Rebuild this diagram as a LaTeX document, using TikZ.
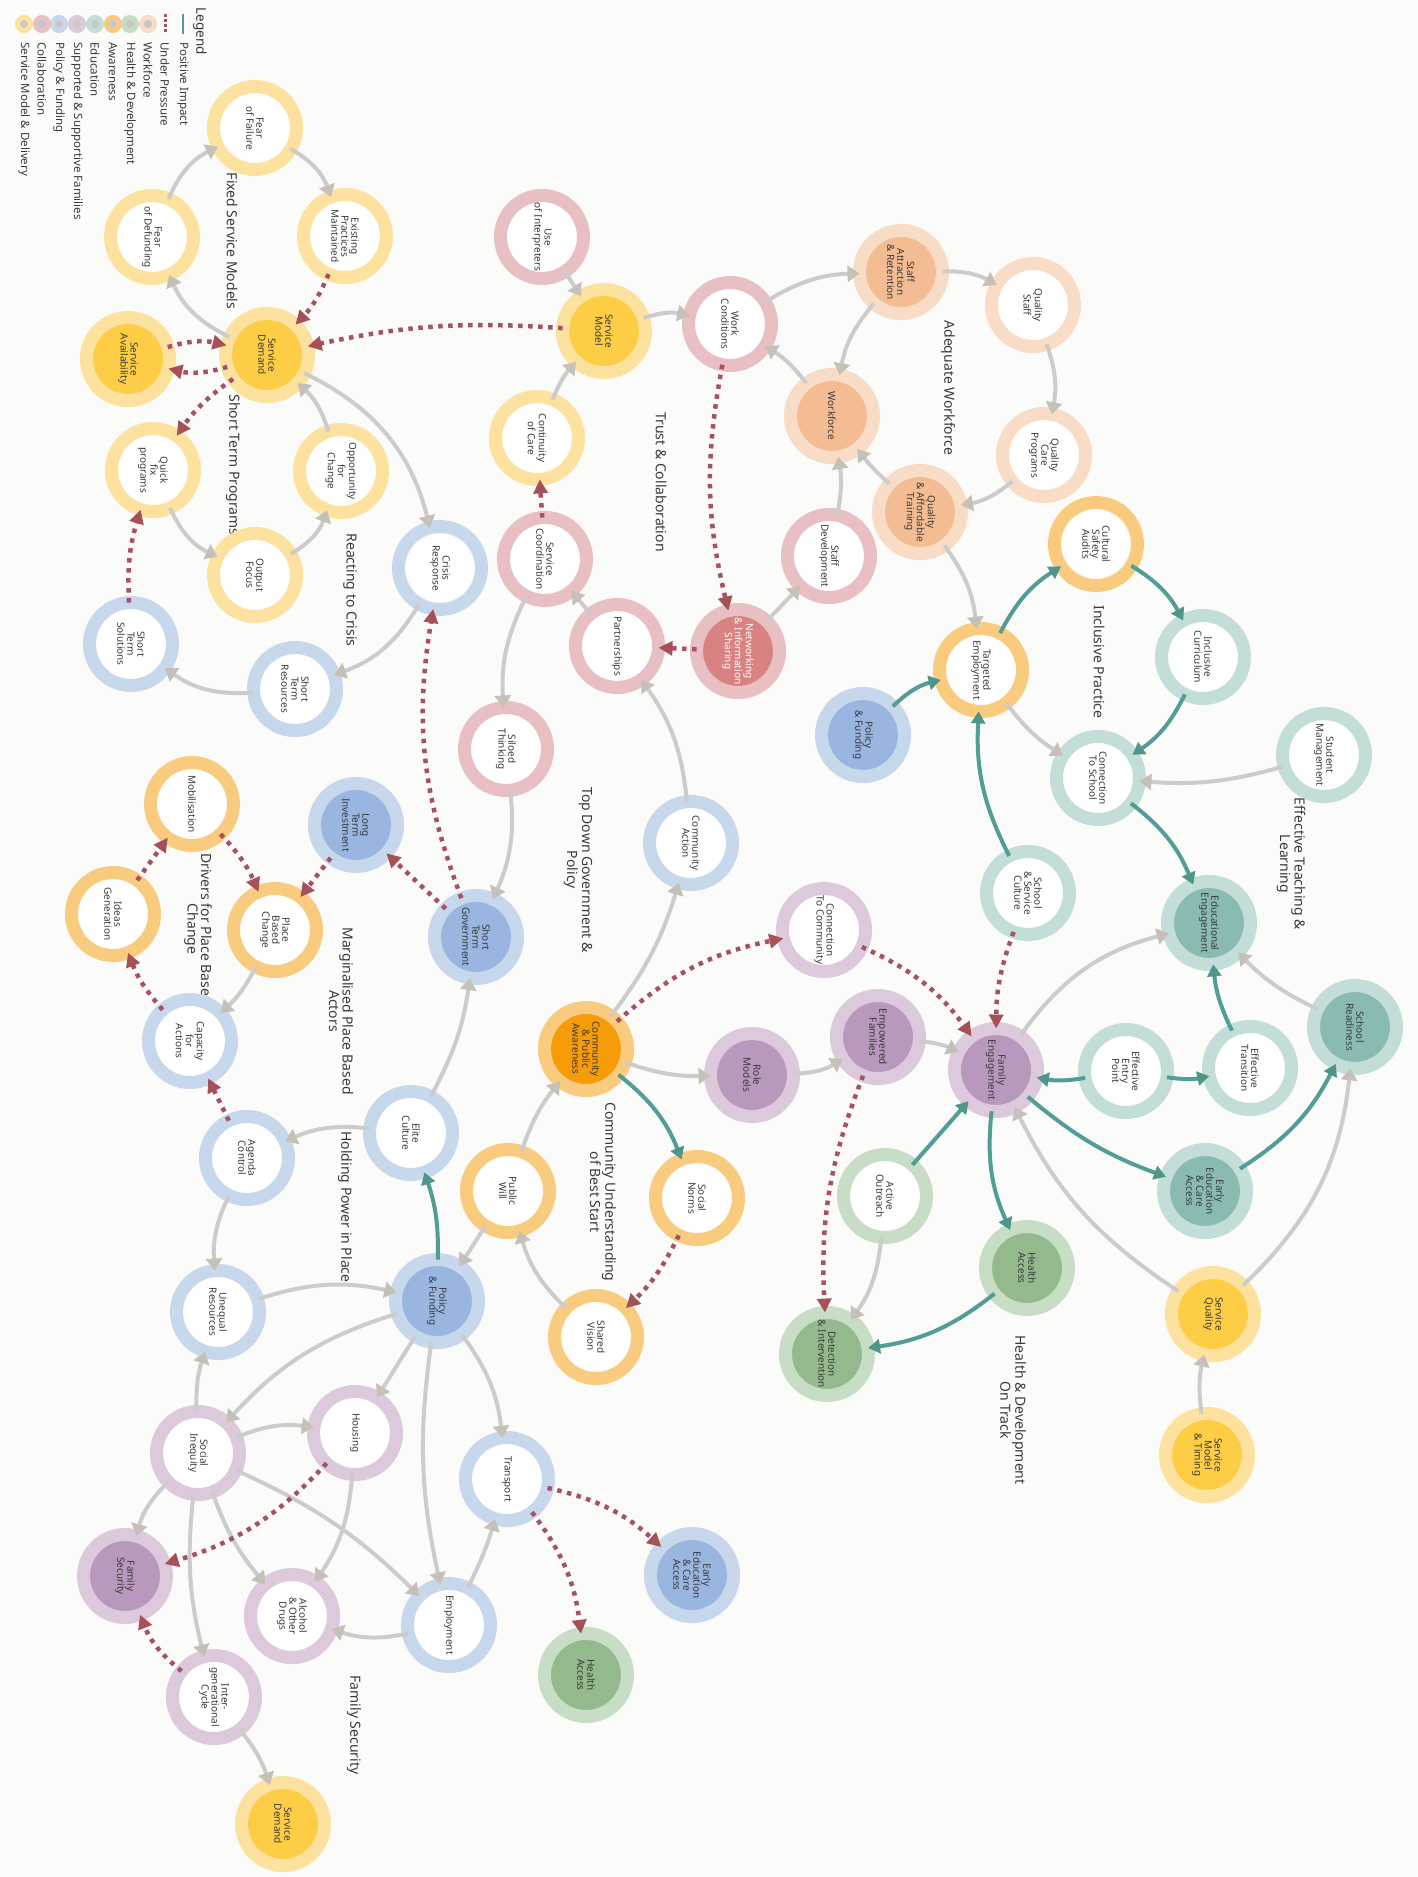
\documentclass[tikz,border=0pt]{standalone}
\usepackage{fontspec}
\setmainfont{Noto Sans}
\usepackage{xcolor}
\usepackage{tikz}
\usetikzlibrary{arrows.meta, positioning}
\definecolor{paper}{HTML}{FBFBF9}
\definecolor{ink}{HTML}{3A3A3A}
\definecolor{smring}{HTML}{FCE29E}
\definecolor{smcore}{HTML}{FDCD45}
\definecolor{coring}{HTML}{E8BFC2}
\definecolor{cocore}{HTML}{D98282}
\definecolor{pfring}{HTML}{C8D8EC}
\definecolor{pfcore}{HTML}{98B6E0}
\definecolor{faring}{HTML}{DCC9DC}
\definecolor{facore}{HTML}{B898BC}
\definecolor{edring}{HTML}{C3DDD8}
\definecolor{edcore}{HTML}{89BBB3}
\definecolor{awring}{HTML}{F9CB7F}
\definecolor{awcore}{HTML}{F59C08}
\definecolor{hering}{HTML}{C7DDC5}
\definecolor{hecore}{HTML}{93B98C}
\definecolor{woring}{HTML}{F8DCC6}
\definecolor{wocore}{HTML}{F4BC92}
\definecolor{keydot}{HTML}{C8C8C8}
\definecolor{linkgray}{HTML}{CCCCCC}
\definecolor{linkhead}{HTML}{C6C1B8}
\definecolor{boostteal}{HTML}{529D95}
\definecolor{boosthead}{HTML}{4F958A}
\definecolor{strainred}{HTML}{A6506A}
\definecolor{strainhead}{HTML}{A65058}

\begin{document}
\begin{tikzpicture}[
    x=1pt, y=-1pt,
    factor/.style={
        circle,
        minimum size=83pt,
        inner sep=0pt,
        outer sep=0pt,
        line width=13pt,
        rotate=-90,
        align=center,
        text=ink,
        font=\fontsize{10}{10}\selectfont
    },
    hollow/.style={factor, draw=#1ring, fill=white},
    cored/.style={factor, draw=#1ring, fill=#1core},
    theme/.style={rotate=-90, align=center, text=ink, font=\fontsize{14}{13.5}\selectfont},
    keytext/.style={rotate=-90, anchor=west, text=ink, font=\fontsize{11.5}{12}\selectfont},
    keyring/.style={circle, minimum size=13pt, inner sep=0pt, line width=5pt, draw=#1ring, fill=keydot},
    link/.style={draw=linkgray, line width=4pt, -{Triangle[length=12pt, width=16pt, color=linkhead]}},
    boost/.style={draw=boostteal, line width=4pt, -{Triangle[length=12pt, width=14pt, color=boosthead]}},
    strain/.style={draw=strainred, line width=4.5pt, dash pattern=on 4.5pt off 5.5pt, -{Triangle[length=14pt, width=14pt, color=strainhead]}}
]
    \fill[paper] (0,0) rectangle (1418,1877);
    \useasboundingbox (0,0) rectangle (1418,1877);

    \node[keytext, font=\bfseries\fontsize{13.5}{14}\selectfont] (keyHead) at (200,4) {Legend};
    \draw[boostteal, line width=2.5pt] (183,14) -- (183,34);
    \draw[strainred, line width=3pt, dash pattern=on 2.5pt off 2.5pt] (165,14) -- (165,34);
    \node[keytext] (keyPos) at (183,39) {Positive Impact};
    \node[keytext] (keyPres) at (165,39) {Under Pressure};
    \node[keyring=wo] (keyWo) at (148,24) {};
    \node[keytext] at (148,39) {Workforce};
    \node[keyring=he] (keyHe) at (130,24) {};
    \node[keytext] at (130,39) {Health \& Development};
    \node[keyring=aw] (keyAw) at (113,24) {};
    \node[keytext] at (113,39) {Awareness};
    \node[keyring=ed] (keyEd) at (95,24) {};
    \node[keytext] at (95,39) {Education};
    \node[keyring=fa] (keyFa) at (77,24) {};
    \node[keytext] at (77,39) {Supported \& Supportive Families};
    \node[keyring=pf] (keyPf) at (59,24) {};
    \node[keytext] at (59,39) {Policy \& Funding};
    \node[keyring=co] (keyCo) at (42,24) {};
    \node[keytext] at (42,39) {Collaboration};
    \node[keyring=sm] (keySm) at (24,24) {};
    \node[keytext] at (24,39) {Service Model \& Delivery};

    \node[theme] (lblFixed) at (232,241) {Fixed Service Models};
    \node[theme] (lblShort) at (233,465) {Short Term Programs};
    \node[theme] (lblCrisis) at (350,590) {Reacting to Crisis};
    \node[theme] (lblDrivers) at (198,929) {Drivers for Place Based\\Change};
    \node[theme] (lblMargin) at (341,1011) {Marginalised Place Based\\Actors};
    \node[theme] (lblHolding) at (345,1207) {Holding Power in Place};
    \node[theme] (lblFamSec) at (354,1725) {Family Security};
    \node[theme] (lblTrust) at (661,482) {Trust \& Collaboration};
    \node[theme] (lblTopDown) at (578,870) {Top Down Government \&\\Policy};
    \node[theme] (lblCommunity) at (603,1192) {Community Understanding\\of Best Start};
    \node[theme] (lblWorkforce) at (948,388) {Adequate Workforce};
    \node[theme] (lblInclusive) at (1099,662) {Inclusive Practice};
    \node[theme] (lblTeaching) at (1291,864) {Effective Teaching \&\\Learning};
    \node[theme] (lblHealth) at (1013,1410) {Health \& Development\\On Track};

    \node[hollow=sm] (fearFail) at (255,128) {Fear\\of Failure};
    \node[hollow=sm] (fearFund) at (152,237) {Fear\\of Defunding};
    \node[hollow=sm] (existPrac) at (345,236) {Existing\\Practices\\Maintained};
    \node[cored=sm] (svcAvail) at (128,359) {Service\\Availability};
    \node[cored=sm] (svcDemand) at (267,355) {Service\\Demand};
    \node[hollow=sm] (quickFix) at (153,470) {Quick\\fix\\programs};
    \node[hollow=sm] (oppChange) at (341,471) {Opportunity\\for\\Change};
    \node[hollow=sm] (outFocus) at (255,575) {Output\\Focus};
    \node[hollow=sm] (contCare) at (537,438) {Continuity\\of Care};
    \node[cored=sm] (svcModel) at (604,331) {Service\\Model};
    \node[cored=sm] (svcQual) at (1213,1314) {Service\\Quality};
    \node[cored=sm] (svcTiming) at (1207,1455) {Service\\Model\\\& Timing};
    \node[cored=sm] (svcDemandB) at (283,1824) {Service\\Demand};

    \node[hollow=co] (useInterp) at (542,237) {Use\\of Interpreters};
    \node[hollow=co] (workCond) at (730,324) {Work\\Conditions};
    \node[hollow=co] (svcCoord) at (545,559) {Service\\Coordination};
    \node[hollow=co] (partner) at (617,646) {Partnerships};
    \node[cored=co, text=white] (network) at (738,651) {Networking\\\& Information\\Sharing};
    \node[hollow=co] (staffDev) at (829,556) {Staff\\Development};
    \node[hollow=co] (siloed) at (506,749) {Siloed\\Thinking};

    \node[hollow=pf] (shortSol) at (131,644) {Short\\Term\\Solutions};
    \node[hollow=pf] (shortRes) at (295,689) {Short\\Term\\Resources};
    \node[hollow=pf] (crisis) at (440,568) {Crisis\\Response};
    \node[cored=pf] (longInv) at (356,825) {Long\\Term\\Investment};
    \node[cored=pf] (shortGov) at (476,937) {Short\\Term\\Government};
    \node[hollow=pf] (capacity) at (190,1041) {Capacity\\for\\Actions};
    \node[hollow=pf] (agenda) at (247,1158) {Agenda\\Control};
    \node[hollow=pf] (elite) at (411,1133) {Elite\\Culture};
    \node[hollow=pf] (unequal) at (218,1312) {Unequal\\Resources};
    \node[cored=pf] (polLow) at (437,1301) {Policy\\\& Funding};
    \node[hollow=pf] (employ) at (449,1625) {Employment};
    \node[hollow=pf] (transport) at (507,1479) {Transport};
    \node[cored=pf] (earlyEdB) at (692,1575) {Early\\Education\\\& Care\\Access};
    \node[hollow=pf] (commAct) at (691,843) {Community\\Action};
    \node[cored=pf] (polUp) at (863,735) {Policy\\\& Funding};

    \node[hollow=fa] (socIneq) at (198,1453) {Social\\Inequity};
    \node[hollow=fa] (housing) at (355,1433) {Housing};
    \node[cored=fa] (famSec) at (125,1576) {Family\\Security};
    \node[hollow=fa] (alcohol) at (292,1616) {Alcohol\\\& Other\\Drugs};
    \node[hollow=fa] (interGen) at (214,1697) {Inter-\\generational\\Cycle};
    \node[cored=fa] (roleMod) at (752,1075) {Role\\Models};
    \node[cored=fa] (empFam) at (878,1037) {Empowered\\Families};
    \node[hollow=fa] (connComm) at (824,930) {Connection\\To Community};
    \node[cored=fa] (famEng) at (996,1070) {Family\\Engagement};

    \node[hollow=ed] (inclCurr) at (1203,657) {Inclusive\\Curriculum};
    \node[hollow=ed] (connSchool) at (1098,778) {Connection\\To School};
    \node[hollow=ed] (studMgmt) at (1324,755) {Student\\Management};
    \node[hollow=ed] (schoolCult) at (1028,893) {School\\\& Service\\Culture};
    \node[cored=ed] (eduEng) at (1209,923) {Educational\\Engagement};
    \node[hollow=ed] (entryPt) at (1126,1071) {Effective\\Entry\\Point};
    \node[hollow=ed] (transition) at (1250,1068) {Effective\\Transition};
    \node[cored=ed] (schoolRdy) at (1355,1027) {School\\Readiness};
    \node[cored=ed] (earlyEdT) at (1205,1191) {Early\\Education\\\& Care\\Access};

    \node[hollow=aw] (mobil) at (192,804) {Mobilisation};
    \node[hollow=aw] (ideas) at (113,914) {Ideas\\Generation};
    \node[hollow=aw] (placeChg) at (275,930) {Place\\Based\\Change};
    \node[cored=aw] (commAware) at (586,1049) {Community\\\& Public\\Awareness};
    \node[hollow=aw] (pubWill) at (508,1191) {Public\\Will};
    \node[hollow=aw] (socNorms) at (697,1198) {Social\\Norms};
    \node[hollow=aw] (sharedVis) at (596,1337) {Shared\\Vision};
    \node[hollow=aw] (cultAudit) at (1096,544) {Cultural\\Safety\\Audits};
    \node[hollow=aw] (targetEmp) at (981,670) {Targeted\\Employment};

    \node[hollow=he] (activeOut) at (885,1196) {Active\\Outreach};
    \node[cored=he] (detect) at (827,1354) {Detection\\\& Intervention};
    \node[cored=he] (healthT) at (1027,1268) {Health\\Access};
    \node[cored=he] (healthB) at (586,1675) {Health\\Access};

    \node[cored=wo] (staffAttr) at (901,272) {Staff\\Attraction\\\& Retention};
    \node[cored=wo] (workforce) at (832,416) {Workforce};
    \node[hollow=wo] (qualStaff) at (1033,305) {Quality\\Staff};
    \node[hollow=wo] (qualCare) at (1044,455) {Quality\\Care\\Programs};
    \node[cored=wo] (qualTrain) at (920,512) {Quality\\\& Affordable\\Training};

    \draw[link] (fearFund) to[bend left=20] (fearFail);
    \draw[link] (fearFail) to[bend left=20] (existPrac);
    \draw[link] (svcDemand) to[bend left=20] (fearFund);
    \draw[link] (oppChange) to[bend right=15] (svcDemand);
    \draw[link] (svcDemand) to[bend left=25] (crisis);
    \draw[link] (quickFix) to[bend right=20] (outFocus);
    \draw[link] (outFocus) to[bend right=20] (oppChange);
    \draw[link] (crisis) to[bend left=20] (shortRes);
    \draw[link] (shortRes) to[bend left=20] (shortSol);
    \draw[link] (placeChg) to[bend left=10] (capacity);
    \draw[link] (elite) to[bend right=15] (agenda);
    \draw[link] (agenda) to[bend right=15] (unequal);
    \draw[link] (unequal) to[bend left=15] (polLow);
    \draw[link] (elite) to[bend right=10] (shortGov);
    \draw[link] (siloed) to[bend left=15] (shortGov);
    \draw[link] (svcCoord) to[bend right=15] (siloed);
    \draw[link] (contCare) to[bend left=10] (svcModel);
    \draw[link] (useInterp) -- (svcModel);
    \draw[link] (svcModel) to[bend left=15] (workCond);
    \draw[link] (workCond) to[bend left=15] (staffAttr);
    \draw[link] (staffAttr) to[bend right=15] (workforce);
    \draw[link] (workforce) to[bend right=10] (workCond);
    \draw[link] (staffAttr) to[bend left=15] (qualStaff);
    \draw[link] (qualStaff) to[bend left=15] (qualCare);
    \draw[link] (qualCare) to[bend left=15] (qualTrain);
    \draw[link] (qualTrain) to[bend left=5] (workforce);
    \draw[link] (staffDev) to[bend right=10] (workforce);
    \draw[link] (network) -- (staffDev);
    \draw[link] (partner) -- (svcCoord);
    \draw[link] (commAct) to[bend right=15] (partner);
    \draw[link] (commAware) to[bend right=10] (commAct);
    \draw[link] (qualTrain) to[bend left=15] (targetEmp);
    \draw[link] (targetEmp) to[bend right=10] (connSchool);
    \draw[link] (studMgmt) to[bend left=10] (connSchool);
    \draw[link] (commAware) to[bend right=10] (roleMod);
    \draw[link] (roleMod) to[bend right=15] (empFam);
    \draw[link] (empFam) to[bend left=10] (famEng);
    \draw[link] (sharedVis) to[bend left=15] (pubWill);
    \draw[link] (pubWill) to[bend left=10] (commAware);
    \draw[link] (pubWill) -- (polLow);
    \draw[link] (activeOut) to[bend left=15] (detect);
    \draw[link] (svcQual) to[bend right=20] (schoolRdy);
    \draw[link] (svcQual) to[bend left=15] (famEng);
    \draw[link] (famEng) to[bend left=20] (eduEng);
    \draw[link] (schoolRdy) to[bend left=10] (eduEng);
    \draw[link] (svcTiming) to[bend left=10] (svcQual);
    \draw[link] (polLow) -- (housing);
    \draw[link] (polLow) to[bend right=15] (socIneq);
    \draw[link] (socIneq) to[bend left=10] (unequal);
    \draw[link] (socIneq) to[bend left=15] (housing);
    \draw[link] (socIneq) to[bend right=15] (famSec);
    \draw[link] (socIneq) to[bend right=10] (interGen);
    \draw[link] (socIneq) to[bend right=10] (alcohol);
    \draw[link] (socIneq) to[bend left=10] (employ);
    \draw[link] (housing) to[bend left=15] (alcohol);
    \draw[link] (employ) to[bend left=15] (alcohol);
    \draw[link] (polLow) to[bend right=10] (employ);
    \draw[link] (interGen) to[bend left=10] (svcDemandB);
    \draw[link] (polLow) to[bend left=15] (transport);
    \draw[link] (employ) to[bend right=5] (transport);

    \draw[boost] (polLow) to[bend right=10] (elite);
    \draw[boost] (polUp) to[bend left=15] (targetEmp);
    \draw[boost] (targetEmp) to[bend left=15] (cultAudit);
    \draw[boost] (cultAudit) to[bend left=15] (inclCurr);
    \draw[boost] (inclCurr) to[bend left=15] (connSchool);
    \draw[boost] (connSchool) to[bend left=15] (eduEng);
    \draw[boost] (schoolCult) to[bend left=15] (targetEmp);
    \draw[boost] (commAware) to[bend left=15] (socNorms);
    \draw[boost] (activeOut) -- (famEng);
    \draw[boost] (famEng) to[bend right=15] (healthT);
    \draw[boost] (healthT) to[bend left=15] (detect);
    \draw[boost] (entryPt) to[bend left=10] (famEng);
    \draw[boost] (entryPt) to[bend right=10] (transition);
    \draw[boost] (transition) to[bend left=10] (eduEng);
    \draw[boost] (famEng) to[bend right=10] (earlyEdT);
    \draw[boost] (earlyEdT) to[bend right=15] (schoolRdy);

    \draw[strain] (existPrac) to[bend left=10] (svcDemand);
    \draw[strain] (svcModel) to[bend right=8] (svcDemand);
    \draw[strain] (svcAvail) to[bend left=15] (svcDemand);
    \draw[strain] (svcDemand) to[bend left=15] (svcAvail);
    \draw[strain] (svcDemand) to[bend right=10] (quickFix);
    \draw[strain] (shortSol) to[bend left=10] (quickFix);
    \draw[strain] (shortGov) to[bend left=15] (crisis);
    \draw[strain] (shortGov) -- (longInv);
    \draw[strain] (longInv) -- (placeChg);
    \draw[strain] (mobil) to[bend left=10] (placeChg);
    \draw[strain] (ideas) -- (mobil);
    \draw[strain] (capacity) to[bend left=10] (ideas);
    \draw[strain] (agenda) -- (capacity);
    \draw[strain] (svcCoord) -- (contCare);
    \draw[strain] (workCond) to[bend right=12] (network);
    \draw[strain] (network) -- (partner);
    \draw[strain] (connComm) to[bend left=15] (famEng);
    \draw[strain] (schoolCult) to[bend right=10] (famEng);
    \draw[strain] (commAware) to[bend left=15] (connComm);
    \draw[strain] (empFam) to[bend right=12] (detect);
    \draw[strain] (socNorms) to[bend left=10] (sharedVis);
    \draw[strain] (housing) to[bend left=15] (famSec);
    \draw[strain] (interGen) to[bend left=15] (famSec);
    \draw[strain] (transport) to[bend left=15] (earlyEdB);
    \draw[strain] (transport) to[bend left=15] (healthB);
\end{tikzpicture}
\end{document}
